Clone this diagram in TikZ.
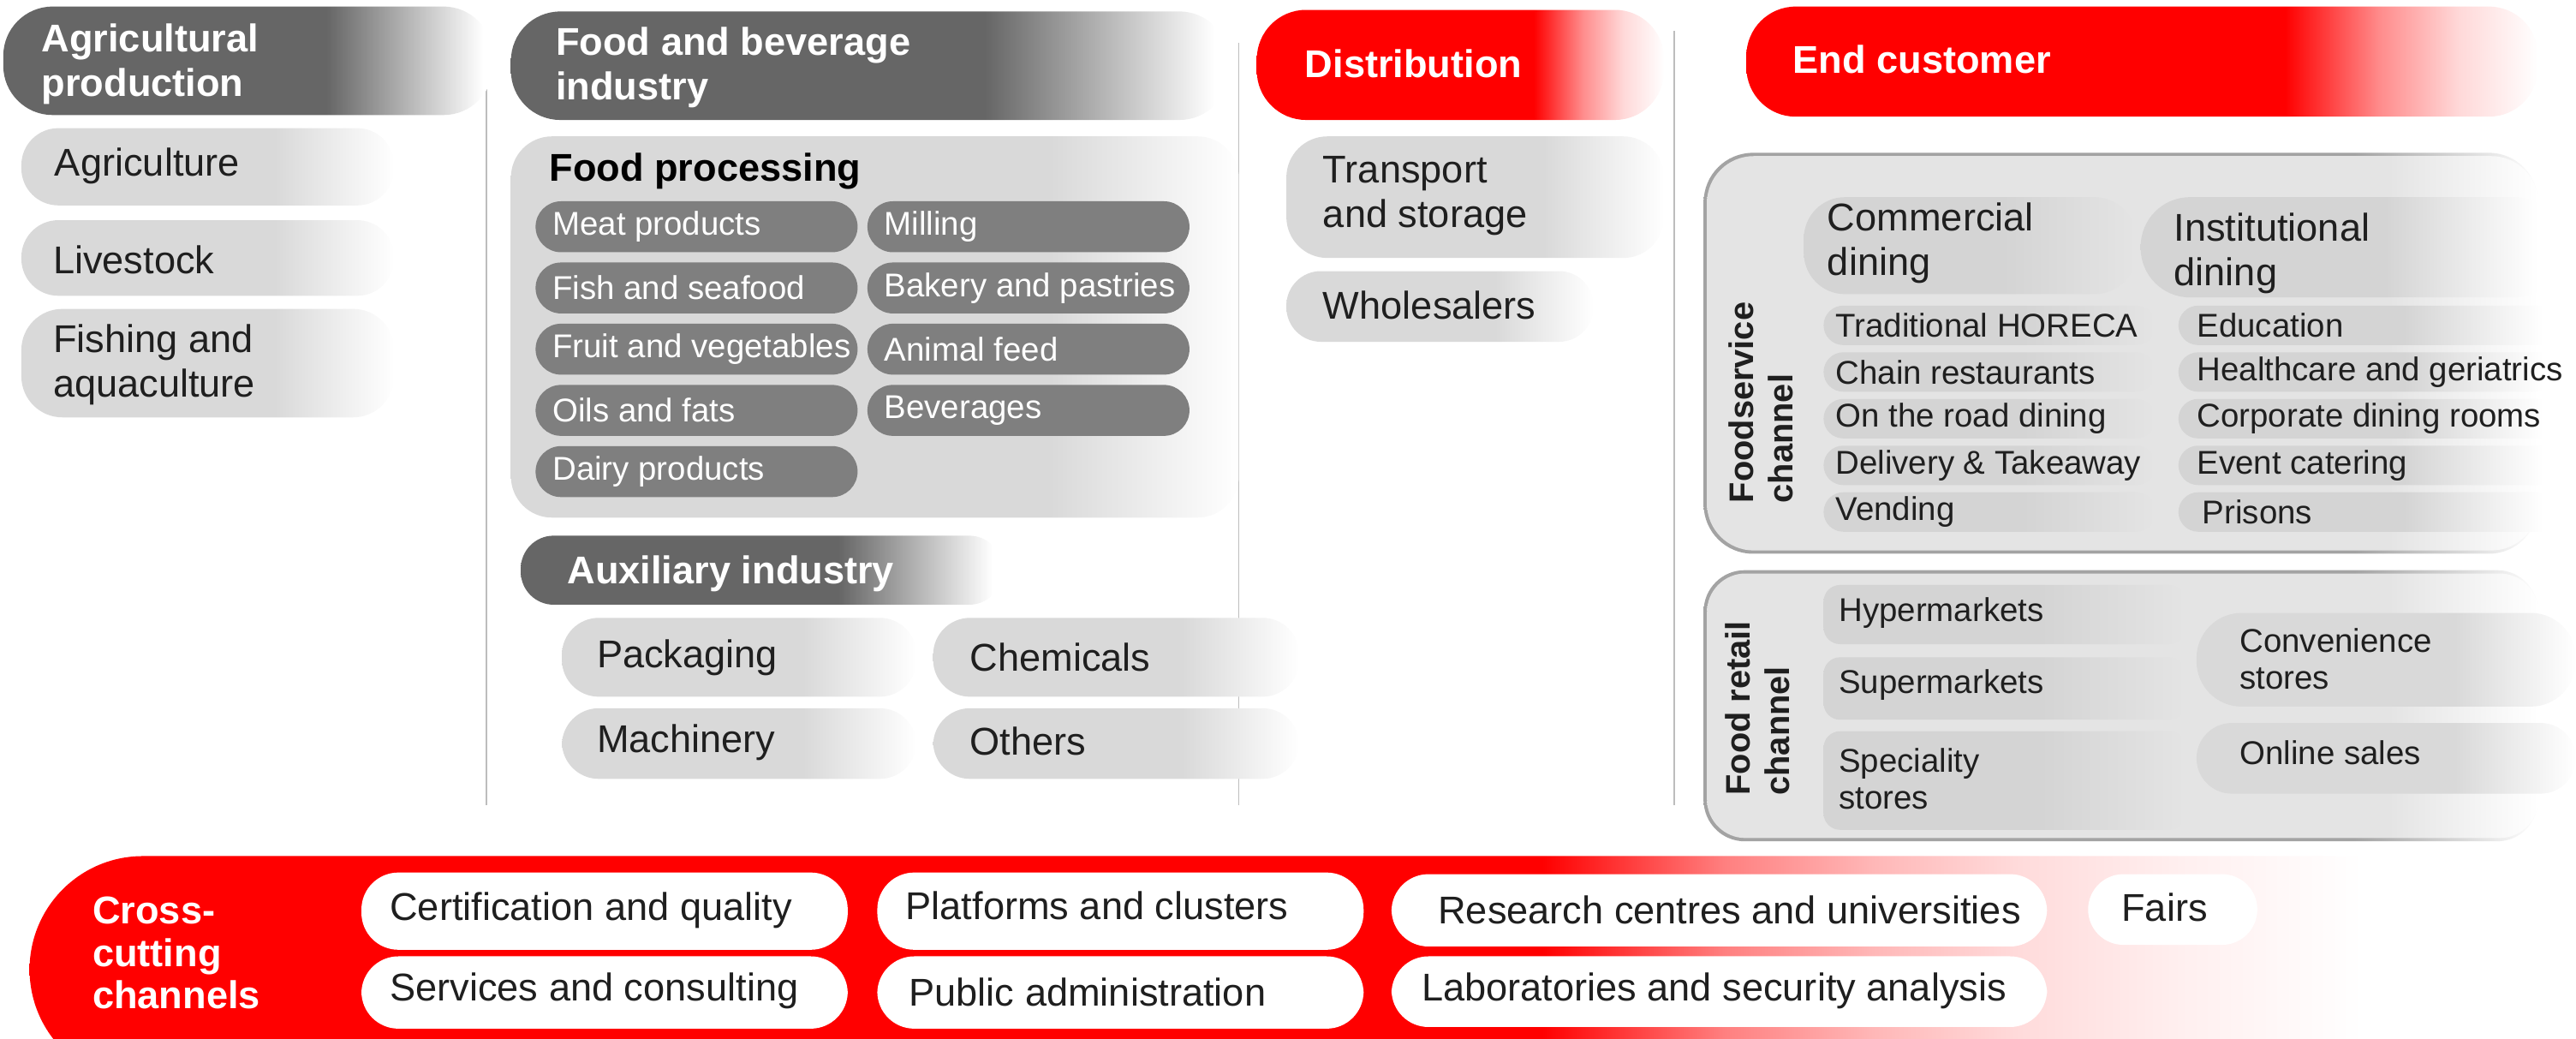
\documentclass[tikz,border=0pt]{standalone}
\usepackage{fontspec}
\setmainfont{Liberation Sans}

\definecolor{headgray}{HTML}{666666}
\definecolor{chipgray}{HTML}{7F7F7F}
\definecolor{softgray}{HTML}{D9D9D9}
\definecolor{panelgray}{HTML}{E4E4E4}
\definecolor{itemgray}{HTML}{D4D4D4}
\definecolor{rimgray}{HTML}{A3A3A3}
\definecolor{brandred}{HTML}{FF0000}
\definecolor{rulegray}{HTML}{BDBDBD}
\definecolor{ink}{HTML}{1F1F1F}

% colour #2 held up to #4, blended into #3 at #5 (bp, box spans 25..75)
\newcommand\fadeshading[5]{%
  \pgfdeclarehorizontalshading{#1}{100bp}{color(0bp)=(#2); color(#4bp)=(#2); color(#5bp)=(#3); color(100bp)=(#3)}}
\fadeshading{darkhead}{headgray}{white}{58}{74}
\fadeshading{softfade}{softgray}{white}{59}{75}
\fadeshading{procfade}{softgray}{white}{62}{75}
\fadeshading{rimfade}{rimgray}{white}{64}{75}
\fadeshading{panelfade}{panelgray}{white}{66}{75}
\fadeshading{inpanel}{itemgray}{panelgray}{55}{75}
\fadeshading{outpanel}{itemgray}{white}{54}{72}
% the red ones thin out slowly towards the end
\pgfdeclarehorizontalshading{redhead}{100bp}{color(0bp)=(brandred); color(59bp)=(brandred);
  color(65bp)=(brandred!45); color(70bp)=(brandred!15); color(75bp)=(white); color(100bp)=(white)}
\pgfdeclarehorizontalshading{redband}{100bp}{color(0bp)=(brandred); color(54.1bp)=(brandred);
  color(57.6bp)=(brandred!50); color(60.5bp)=(brandred!28); color(63.3bp)=(brandred!14);
  color(66.5bp)=(brandred!6); color(69.9bp)=(white); color(100bp)=(white)}

\begin{document}
\begin{tikzpicture}[x=0.2mm, y=-0.2mm,
    txt/.style={anchor=west, inner sep=0pt, align=left, text=ink, font=\fontsize{13.4}{15.4}\selectfont},
    smalltxt/.style={txt, font=\fontsize{11.4}{13}\selectfont},
    headtxt/.style={txt, text=white, font=\fontsize{13.4}{15.4}\selectfont\bfseries},
    chiptxt/.style={smalltxt, text=white},
    sidetxt/.style={inner sep=0pt, align=left, rotate=90, text=ink, font=\fontsize{11.8}{13.6}\selectfont\bfseries},
    sep/.style={draw=rulegray, line width=0.5pt},
    grayhead/.style={shading=darkhead, rounded corners=6mm},
    redtop/.style={shading=redhead, rounded corners=6mm},
    softpill/.style={shading=softfade, rounded corners=4.5mm},
    chip/.style={fill=chipgray, rounded corners=3.1mm},
    whitepill/.style={fill=white, rounded corners=4.5mm}]
  \useasboundingbox (0,0) rectangle (1568,632);

  % column separators
  \draw[sep] (296,26) -- (296,490);
  \draw[sep] (754,26) -- (754,490);
  \draw[sep] (1019,19) -- (1019,490);

  % Agricultural production
  \shade[grayhead] (2,4) rectangle (300,70);
  \node[headtxt] (agrihead) at (25,39) {Agricultural\\production};
  \shade[softpill] (13,78) rectangle (240,125);
  \node[txt] (agri) at (33,101) {Agriculture};
  \shade[softpill] (13,134) rectangle (240,180);
  \node[txt] (live) at (32,158) {Livestock};
  \shade[softpill, rounded corners=5mm] (13,188) rectangle (240,254);
  \node[txt] (fish) at (32,222) {Fishing and\\aquaculture};

  % Food and beverage industry
  \shade[grayhead] (311,7) rectangle (748,73);
  \node[headtxt] (fbhead) at (338,41) {Food and beverage\\industry};
  \shade[shading=procfade, rounded corners=5mm] (311,83) rectangle (754,315);
  \node[txt, font=\fontsize{13.4}{15.4}\selectfont\bfseries, text=black] (proc) at (334,104) {Food processing};
  \foreach \nm/\i/\t in {meat/0/Meat products, seafood/1/Fish and seafood,
      fruit/2/Fruit and vegetables, oils/3/Oils and fats, dairy/4/Dairy products}{
    \fill[chip] (326,122.5+37.25*\i) rectangle (522,153.5+37.25*\i);
    \node[chiptxt] (\nm) at (336,138+37.25*\i) {\t};
  }
  \foreach \nm/\i/\t in {milling/0/Milling, bakery/1/Bakery and pastries,
      feed/2/Animal feed, bever/3/Beverages}{
    \fill[chip] (528,122.5+37.25*\i) rectangle (724,153.5+37.25*\i);
    \node[chiptxt] (\nm) at (538,138+37.25*\i) {\t};
  }

  % Auxiliary industry
  \shade[grayhead, rounded corners=4mm] (317,326) rectangle (610,368);
  \node[headtxt] (auxhead) at (345,349) {Auxiliary industry};
  \shade[softpill] (342,376) rectangle (558,424);
  \node[txt] (pack) at (363,400) {Packaging};
  \shade[softpill] (568,376) rectangle (791,424);
  \node[txt] (chem) at (590,400) {Chemicals};
  \shade[softpill] (342,431) rectangle (558,474);
  \node[txt] (mach) at (363,452) {Machinery};
  \shade[softpill] (568,431) rectangle (791,474);
  \node[txt] (others) at (590,451) {Others};

  % Distribution
  \shade[redtop] (765,6) rectangle (1013,73);
  \node[headtxt] (disthead) at (794,39) {Distribution};
  \shade[softpill, rounded corners=5mm] (783,83) rectangle (1013,157);
  \node[txt] (transp) at (805,119) {Transport\\and storage};
  \shade[softpill, rounded corners=4.2mm] (783,165) rectangle (970,208);
  \node[txt] (whole) at (805,186) {Wholesalers};

  % End customer
  \shade[redtop] (1063,4) rectangle (1545,71);
  \node[headtxt] (endhead) at (1091,36) {End customer};

  % foodservice channel
  \shade[shading=rimfade, rounded corners=6mm] (1037,93) rectangle (1545,337);
  \shade[shading=panelfade, rounded corners=5.7mm] (1039,95) rectangle (1545,335);
  \node[sidetxt] (fsside) at (1072,245) {Foodservice\\channel};
  \shade[shading=inpanel, rounded corners=5mm] (1098,120) rectangle (1300,179);
  \node[txt] (comm) at (1112,148) {Commercial\\dining};
  \shade[shading=outpanel, rounded corners=6mm] (1303,120) rectangle (1560,181);
  \node[txt] (inst) at (1323,154) {Institutional\\dining};
  \foreach \nm/\i/\t in {horeca/0/Traditional HORECA, chain/1/Chain restaurants,
      road/2/On the road dining, deliv/3/Delivery \& Takeaway, vend/4/Vending}{
    \shade[shading=inpanel, rounded corners=2.4mm] (1110,186+28.4*\i) rectangle (1312,210+28.4*\i);
    \node[smalltxt] (\nm) at (1117,198+28.4*\i) {\t};
  }
  \foreach \nm/\i/\t in {educ/0/Education, health/1/Healthcare and geriatrics,
      corp/2/Corporate dining rooms, event/3/Event catering, prison/4/\,Prisons}{
    \shade[shading=outpanel, rounded corners=2.4mm] (1326,186+28.4*\i) rectangle (1562,210+28.4*\i);
    \node[smalltxt] (\nm) at (1337,198+28.4*\i) {\t};
  }

  % food retail channel
  \shade[shading=rimfade, rounded corners=5mm] (1037,347) rectangle (1545,512);
  \shade[shading=panelfade, rounded corners=4.7mm] (1039,349) rectangle (1545,510);
  \node[sidetxt] (frside) at (1070,431) {Food retail\\channel};
  \shade[shading=inpanel, rounded corners=2mm] (1110,356) rectangle (1330,392);
  \node[smalltxt] (hyper) at (1119,373) {Hypermarkets};
  \shade[shading=inpanel, rounded corners=2mm] (1110,400) rectangle (1330,438);
  \node[smalltxt] (super) at (1119,417) {Supermarkets};
  \shade[shading=inpanel, rounded corners=2mm] (1110,445) rectangle (1330,505);
  \node[smalltxt] (spec) at (1119,474) {Speciality\\stores};
  \shade[softpill, rounded corners=5.5mm] (1337,373) rectangle (1568,430);
  \node[smalltxt] (conv) at (1363,401) {Convenience\\stores};
  \shade[softpill, rounded corners=4.3mm] (1337,440) rectangle (1568,483);
  \node[smalltxt] (online) at (1363,458) {Online sales};

  % Cross-cutting channels
  \shade[shading=redband, rounded corners=13.8mm] (18,521) rectangle (1600,659);
  \node[headtxt, font=\fontsize{13.4}{14.7}\selectfont\bfseries] (crosshead) at (56,580) {Cross-\\cutting\\channels};
  \fill[whitepill] (220,531) rectangle (516,578);
  \node[txt] (cert) at (237,554) {Certification and quality};
  \fill[whitepill] (220,582) rectangle (516,626);
  \node[txt] (serv) at (237,603) {Services and consulting};
  \fill[whitepill] (534,531) rectangle (830,578);
  \node[txt] (plat) at (551,551) {Platforms and clusters};
  \fill[whitepill] (534,582) rectangle (830,626);
  \node[txt] (publ) at (553,604) {Public administration};
  \fill[whitepill] (847,532) rectangle (1246,576);
  \node[txt] (rsch) at (875,554) {Research centres and universities};
  \fill[whitepill] (847,582) rectangle (1246,625);
  \node[txt] (labs) at (865,603) {Laboratories and security analysis};
  \fill[whitepill, rounded corners=4.3mm] (1271,532) rectangle (1374,575);
  \node[txt] (fairs) at (1291,552) {Fairs};
\end{tikzpicture}
\end{document}
